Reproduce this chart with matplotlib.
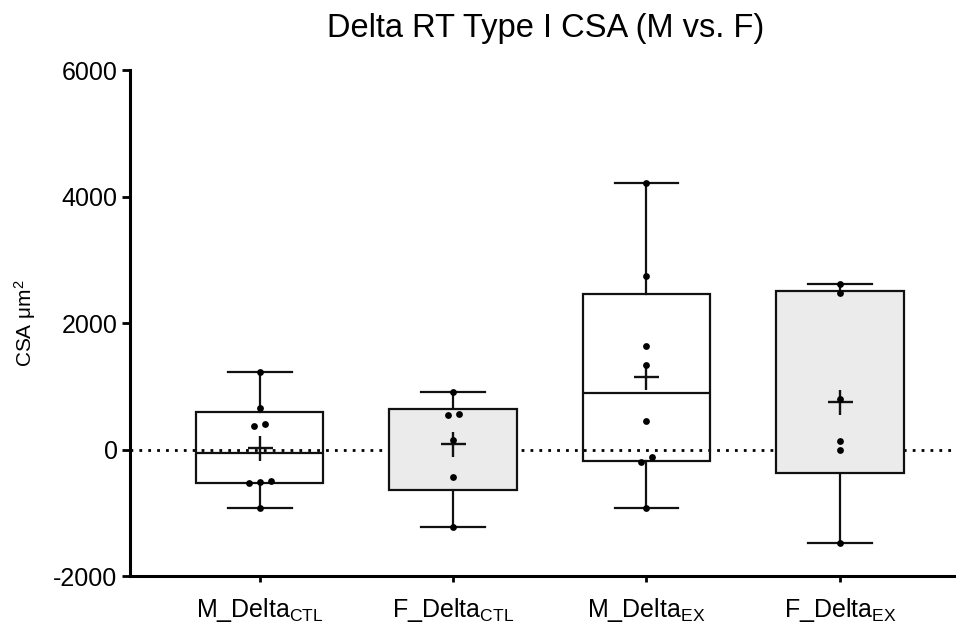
import numpy as np
import matplotlib
matplotlib.use('Agg')
import matplotlib.pyplot as plt

plt.rcParams['font.family'] = ['Liberation Sans', 'DejaVu Sans']
plt.rcParams['mathtext.fontset'] = 'custom'
plt.rcParams['mathtext.rm'] = 'Liberation Sans'
plt.rcParams['mathtext.it'] = 'Liberation Sans'
plt.rcParams['axes.unicode_minus'] = False

# data
labels = ['M_Delta$_{\\mathrm{CTL}}$', 'F_Delta$_{\\mathrm{CTL}}$',
          'M_Delta$_{\\mathrm{EX}}$', 'F_Delta$_{\\mathrm{EX}}$']
m_ctl = [1228, 650, 410, 378, -500, -530, -520, -930]
f_ctl = [913, 556, 540, 153, -436, -1217]
m_ex = [4209, 2740, 1633, 1339, 457, -121, -200, -924]
f_ex = [2625, 2477, 798, 131, -5, -1469]
groups = [m_ctl, f_ctl, m_ex, f_ex]
fills = ['none', '#ebebeb', 'none', '#ebebeb']

fig = plt.figure(figsize=(9.56, 6.31), dpi=100)
ax = fig.add_axes([0.136, 0.087, 0.864, 0.802])

# box stats: min/max whiskers, quartiles like prism
stats = []
for i, g in enumerate(groups):
    a = np.array(g, dtype=float)
    q1, med, q3 = np.percentile(a, [25, 50, 75], method='weibull')
    stats.append(dict(med=med, q1=q1, q3=q3, whislo=a.min(), whishi=a.max(),
                      mean=a.mean(), fliers=[], label=labels[i]))

pos = np.arange(1, len(groups) + 1)
lc = '#111111'
bp = ax.bxp(stats, positions=pos, widths=0.66, patch_artist=True,
            showmeans=False, showfliers=False,
            boxprops=dict(linewidth=1.6, edgecolor=lc),
            medianprops=dict(color=lc, linewidth=1.6),
            whiskerprops=dict(color=lc, linewidth=1.6),
            capprops=dict(color=lc, linewidth=1.6),
            capwidths=0.33)
for patch, c in zip(bp['boxes'], fills):
    patch.set_facecolor(c)
    patch.set_zorder(3)

# mean crosses
for p, s in zip(pos, stats):
    ax.plot(p, s['mean'], marker='+', ms=18, mew=1.7, color=lc, zorder=4)

# points, spread sideways when they overlap
d = 0.057
thr = 80
for p, g in zip(pos, groups):
    v = np.sort(np.array(g, dtype=float))
    clusters = [[v[0]]]
    for y in v[1:]:
        if y - clusters[-1][-1] < thr:
            clusters[-1].append(y)
        else:
            clusters.append([y])
    for cl in clusters:
        n = len(cl)
        offs = (np.arange(n) - (n - 1) / 2.) * d
        ax.scatter(p + offs, cl, s=24, color='black', zorder=5, linewidths=0)

ax.axhline(0, color='black', linestyle=(0, (1, 2.2)), linewidth=2, zorder=2)

ax.set_ylim(-2000, 6000)
ax.set_xlim(0.33, 4.6)
ax.set_yticks([-2000, 0, 2000, 4000, 6000])
ax.set_xticks(pos)
ax.set_xticklabels(labels, fontsize=18)
ax.tick_params(axis='y', labelsize=18, width=2, length=6, pad=3)
ax.tick_params(axis='x', width=2, length=4, pad=10)
for sp in ['top', 'right']:
    ax.spines[sp].set_visible(False)
for sp in ['left', 'bottom']:
    ax.spines[sp].set_linewidth(2.2)

ax.set_ylabel('CSA μm$^{2}$', fontsize=15, labelpad=11)
fig.suptitle('Delta RT Type I CSA (M vs. F)', fontsize=23.5, x=0.571, y=0.98)

plt.savefig('out.png', dpi=100)
